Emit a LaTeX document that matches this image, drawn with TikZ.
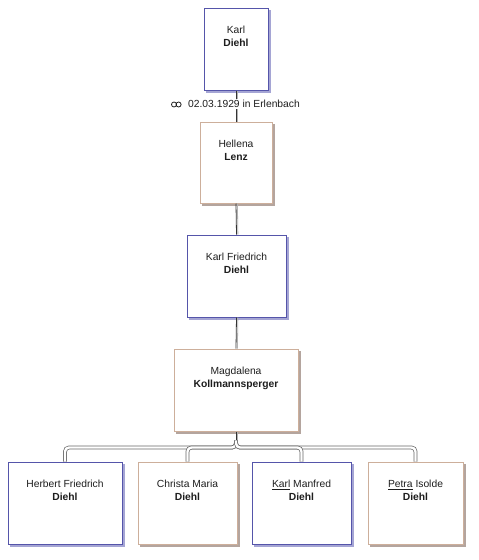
\documentclass[tikz,border=0pt]{standalone}
\usepackage{fontspec}
\setmainfont{Liberation Sans}
\usetikzlibrary{calc,backgrounds}
\definecolor{bluebd}{RGB}{85,85,170}
\definecolor{blueshd}{RGB}{165,165,212}
\definecolor{tanbd}{RGB}{205,175,155}
\definecolor{tanshd}{RGB}{180,165,158}
\definecolor{txt}{RGB}{30,30,30}
\tikzset{
  person/.style={draw, fill=white, line width=1pt, inner sep=0pt},
  maleb/.style={person, draw=bluebd},
  femaleb/.style={person, draw=tanbd},
  ptext/.style={anchor=north, inner sep=0pt, align=center, text=txt, font=\fontsize{10.3}{13}\selectfont},
  conn/.style={draw=black!80, line width=0.8pt, preaction={draw=black!30, line width=0.8pt, transform canvas={xshift=1.4pt}}},
  busline/.style={draw=black!60, line width=0.7pt, double=white, double distance=2.4pt, rounded corners=4pt},
  ring/.style={draw=txt, line width=0.8pt},
}
\newcommand{\boxshadow}[2]{\fill[#2] ($(#1.north west)+(2.6,2.6)$) rectangle ($(#1.south east)+(2.6,2.6)$);}
\begin{document}
\begin{tikzpicture}[x=1pt,y=-1pt]
\useasboundingbox (0,0) rectangle (479,560);
% boxes
\node[maleb, minimum width=64pt, minimum height=82pt] (p1) at (236,49) {};
\node[femaleb, minimum width=72pt, minimum height=81pt] (p2) at (236,162.5) {};
\node[maleb, minimum width=99pt, minimum height=82pt] (p3) at (236.5,276) {};
\node[femaleb, minimum width=124pt, minimum height=82pt] (p4) at (236,390) {};
\node[maleb, minimum width=114pt, minimum height=82pt] (c1) at (65,503) {};
\node[femaleb, minimum width=99pt, minimum height=82pt] (c2) at (187.5,503) {};
\node[maleb, minimum width=99pt, minimum height=82pt] (c3) at (301.5,503) {};
\node[femaleb, minimum width=95pt, minimum height=82pt] (c4) at (415.5,503) {};
\begin{scope}[on background layer]
  \fill[white] (0,0) rectangle (479,560);
  \boxshadow{p1}{blueshd}
  \boxshadow{p2}{tanshd}
  \boxshadow{p3}{blueshd}
  \boxshadow{p4}{tanshd}
  \boxshadow{c1}{blueshd}
  \boxshadow{c2}{tanshd}
  \boxshadow{c3}{blueshd}
  \boxshadow{c4}{tanshd}
\end{scope}
% texts
\node[ptext] (t1) at ($(p1.north)+(0,18.5)$) {Karl\\\textbf{Diehl}};
\node[ptext] (t2) at ($(p2.north)+(0,18.5)$) {Hellena\\\textbf{Lenz}};
\node[ptext] (t3) at ($(p3.north)+(0,18.5)$) {Karl Friedrich\\\textbf{Diehl}};
\node[ptext] (t4) at ($(p4.north)+(0,18.5)$) {Magdalena\\\textbf{Kollmannsperger}};
\node[ptext] (tc1) at ($(c1.north)+(0,18.5)$) {Herbert Friedrich\\\textbf{Diehl}};
\node[ptext] (tc2) at ($(c2.north)+(0,18.5)$) {Christa Maria\\\textbf{Diehl}};
\node[ptext] (tc3) at ($(c3.north)+(0,18.5)$) {\underline{Karl} Manfred\\\textbf{Diehl}};
\node[ptext] (tc4) at ($(c4.north)+(0,18.5)$) {\underline{Petra} Isolde\\\textbf{Diehl}};
% connectors
\draw[conn] (p1.south) -- (p2.north);
\fill[white] (169,97) rectangle (185,111);
\node[fill=white, inner sep=1.5pt, text=txt, font=\fontsize{10.3}{13}\selectfont] (mar) at (244,104) {02.03.1929 in Erlenbach};
\draw[ring] (174,104.5) circle (2.5);
\draw[ring] (178.6,104.5) circle (2.5);
\draw[conn] (p2.south) -- (p3.north);
\draw[conn] (p3.south) -- (p4.north);
\coordinate (j) at ($(p4.south)+(0,9)$);
\draw[conn] (p4.south) -- (j);
\draw[busline] (j) |- ($(c1.north)+(0,-14)$) -- (c1.north);
\draw[busline] (j) |- ($(c4.north)+(0,-14)$) -- (c4.north);
\draw[busline] (j) |- ($(c2.north)+(0,-14)$) -- (c2.north);
\draw[busline] (j) |- ($(c3.north)+(0,-14)$) -- (c3.north);
\end{tikzpicture}
\end{document}
